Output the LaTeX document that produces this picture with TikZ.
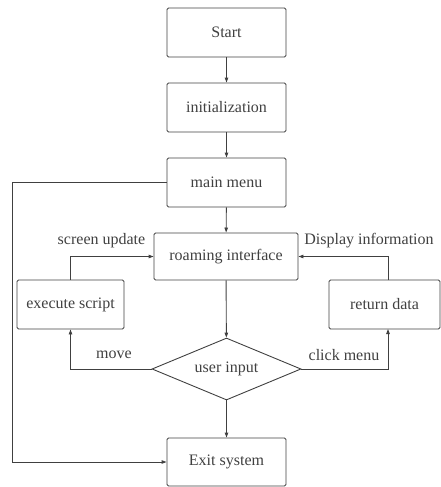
\documentclass[tikz,border=0pt]{standalone}
\usepackage{fontspec}
\setmainfont{Liberation Serif}
\usetikzlibrary{arrows.meta,shapes.geometric}
\definecolor{ink}{HTML}{404040}
\begin{document}
\begin{tikzpicture}[x=1pt,y=-1pt,
  every node/.style={font=\fontsize{16}{18}\selectfont, text=ink},
  procbox/.style={draw=ink, line width=0.9pt, rounded corners=1.5pt, inner sep=0pt},
  decision/.style={draw=ink, line width=0.9pt, diamond, aspect=2.4, inner sep=0pt, minimum width=149pt, minimum height=62pt},
  flow/.style={draw=ink, line width=0.9pt, -{Triangle[length=5pt,width=3.5pt]}},
  plain/.style={draw=ink, line width=0.9pt}]
\useasboundingbox (0,0) rectangle (441,487);

\node[procbox, minimum width=119pt, minimum height=49pt] (start) at (226.5,32.5) {Start};
\node[procbox, minimum width=119pt, minimum height=49pt] (init) at (226.5,107.5) {initialization};
\node[procbox, minimum width=119pt, minimum height=49pt] (menu) at (226.5,182.5) {main menu};
\node[procbox, minimum width=144pt, minimum height=47pt] (roam) at (226,256.5) {roaming interface};
\node[procbox, minimum width=107pt, minimum height=49pt] (exec) at (70.5,304.5) {execute script};
\node[procbox, minimum width=111pt, minimum height=49pt] (ret) at (384.5,304.5) {return data};
\node[decision] (input) at (226.5,369) {user input};
\node[procbox, minimum width=119pt, minimum height=48pt] (exit) at (226.5,462) {Exit system};

\coordinate (lefttop) at (12,182.5);
\coordinate (leftbot) at (12,462);

\draw[flow] (start) -- (init);
\draw[flow] (init) -- (menu);
\draw[flow] (menu) -- (roam);
\draw[flow] (roam) -- (input);
\draw[flow] (input) -- (exit);
\draw[flow] (input.west) -| (exec.south);
\draw[flow] (input.east) -| (388,329);
\draw[flow] (exec.north) |- (roam.west);
\draw[flow] (388,280) |- (roam.east);
\draw[plain] (menu.west) -- (lefttop) -- (leftbot);
\draw[flow] (leftbot) -- (exit.west);

\node (su) at (101.5,241) {screen update};
\node (di) at (369,241) {Display information};
\node (mv) at (114,355) {move};
\node (cm) at (344,355) {click menu};
\end{tikzpicture}
\end{document}
